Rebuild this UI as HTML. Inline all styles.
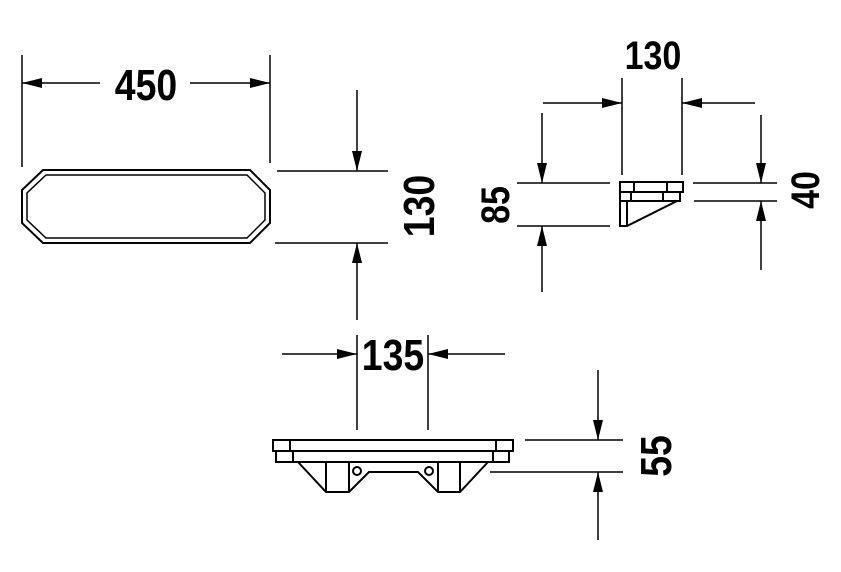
<!DOCTYPE html>
<html><head><style>html,body{margin:0;padding:0;background:#fff}svg{display:block}
text{font-family:"Liberation Sans Narrow","Liberation Sans",sans-serif;font-weight:bold;fill:#000}</style></head>
<body>
<svg width="841" height="572" viewBox="0 0 841 572" xmlns="http://www.w3.org/2000/svg">
<defs>
<marker id="a" viewBox="0 0 20 10" refX="20" refY="5" markerWidth="20" markerHeight="10" markerUnits="userSpaceOnUse" orient="auto"><path d="M0,0L20,5L0,10z" fill="#000"/></marker>
</defs>
<g stroke="#000" stroke-width="1.5" fill="none">
<!-- 450 -->
<line x1="22" y1="55" x2="22" y2="167"/><line x1="270" y1="55" x2="270" y2="163"/>
<line x1="100" y1="83" x2="22" y2="83" marker-end="url(#a)"/>
<line x1="190" y1="83" x2="270" y2="83" marker-end="url(#a)"/>
<path d="M43,170L250,170L270,190L270,223L250,243L43,243L22,223L22,190Z" stroke-width="2"/>
<path d="M46,175L247,175L265,193L265,220L247,238L46,238L27,220L27,193Z"/>
<!-- 130 left -->
<line x1="277" y1="171" x2="388" y2="171"/><line x1="275" y1="243" x2="388" y2="243"/>
<line x1="357" y1="90" x2="357" y2="171" marker-end="url(#a)"/>
<line x1="357" y1="320" x2="357" y2="243" marker-end="url(#a)"/>
<!-- right top -->
<line x1="622" y1="78" x2="622" y2="175"/><line x1="682" y1="78" x2="682" y2="175"/>
<line x1="543" y1="103" x2="622" y2="103" marker-end="url(#a)"/>
<line x1="755" y1="103" x2="682" y2="103" marker-end="url(#a)"/>
<line x1="517" y1="183" x2="610" y2="183"/><line x1="517" y1="226" x2="610" y2="226"/>
<line x1="542" y1="113" x2="542" y2="183" marker-end="url(#a)"/>
<line x1="542" y1="292" x2="542" y2="226" marker-end="url(#a)"/>
<line x1="693" y1="183" x2="777" y2="183"/><line x1="694" y1="201" x2="777" y2="201"/>
<line x1="761" y1="115" x2="761" y2="183" marker-end="url(#a)"/>
<line x1="761" y1="270" x2="761" y2="201" marker-end="url(#a)"/>
<g stroke-width="2">
<rect x="620" y="182" width="63" height="10"/>
<path d="M620,192L620,226L627,226L677,201L680,201L680,192"/>
<line x1="620" y1="201" x2="677" y2="201"/>
<line x1="627" y1="201" x2="627" y2="226"/>
<line x1="634" y1="182" x2="634" y2="192"/><line x1="667" y1="182" x2="667" y2="192"/>
<line x1="631" y1="192" x2="631" y2="201"/><line x1="663" y1="192" x2="663" y2="201"/>
</g>
<!-- 135 -->
<line x1="357" y1="335" x2="357" y2="430"/><line x1="428" y1="335" x2="428" y2="430"/>
<line x1="282" y1="354" x2="357" y2="354" marker-end="url(#a)"/>
<line x1="505" y1="354" x2="428" y2="354" marker-end="url(#a)"/>
<g stroke-width="2">
<rect x="273" y="440" width="240" height="11"/>
<rect x="276" y="451" width="233" height="11"/>
<line x1="290" y1="440" x2="290" y2="451"/><line x1="496" y1="440" x2="496" y2="451"/>
<line x1="293" y1="451" x2="293" y2="462"/><line x1="493" y1="451" x2="493" y2="462"/>
<path d="M298,462L326,492L349,492L369,472L418,472L438,492L460,492L488,462"/>
<line x1="326" y1="462" x2="326" y2="492"/><line x1="349" y1="462" x2="349" y2="492"/>
<line x1="438" y1="462" x2="438" y2="492"/><line x1="460" y1="462" x2="460" y2="492"/>
<circle cx="357" cy="471" r="4"/><circle cx="429" cy="471" r="4"/>
</g>
<!-- 55 -->
<line x1="525" y1="440" x2="623" y2="440"/><line x1="490" y1="472" x2="623" y2="472"/>
<line x1="598" y1="370" x2="598" y2="440" marker-end="url(#a)"/>
<line x1="598" y1="540" x2="598" y2="472" marker-end="url(#a)"/>
</g>
<text x="146" y="100" font-size="44" text-anchor="middle" transform="translate(146 0) scale(0.85 1) translate(-146 0)">450</text>
<text x="653" y="69" font-size="40" text-anchor="middle" transform="translate(653 0) scale(0.85 1) translate(-653 0)">130</text>
<text x="393" y="370" font-size="44" text-anchor="middle" transform="translate(393 0) scale(0.85 1) translate(-393 0)">135</text>
<text font-size="44" text-anchor="middle" transform="translate(434 206) rotate(-90) scale(0.85 1)">130</text>
<text font-size="40" text-anchor="middle" transform="translate(509 205) rotate(-90) scale(0.85 1)">85</text>
<text font-size="40" text-anchor="middle" transform="translate(819 190) rotate(-90) scale(0.85 1)">40</text>
<text font-size="44" text-anchor="middle" transform="translate(671 456) rotate(-90) scale(0.85 1)">55</text>
</svg>
</body></html>
